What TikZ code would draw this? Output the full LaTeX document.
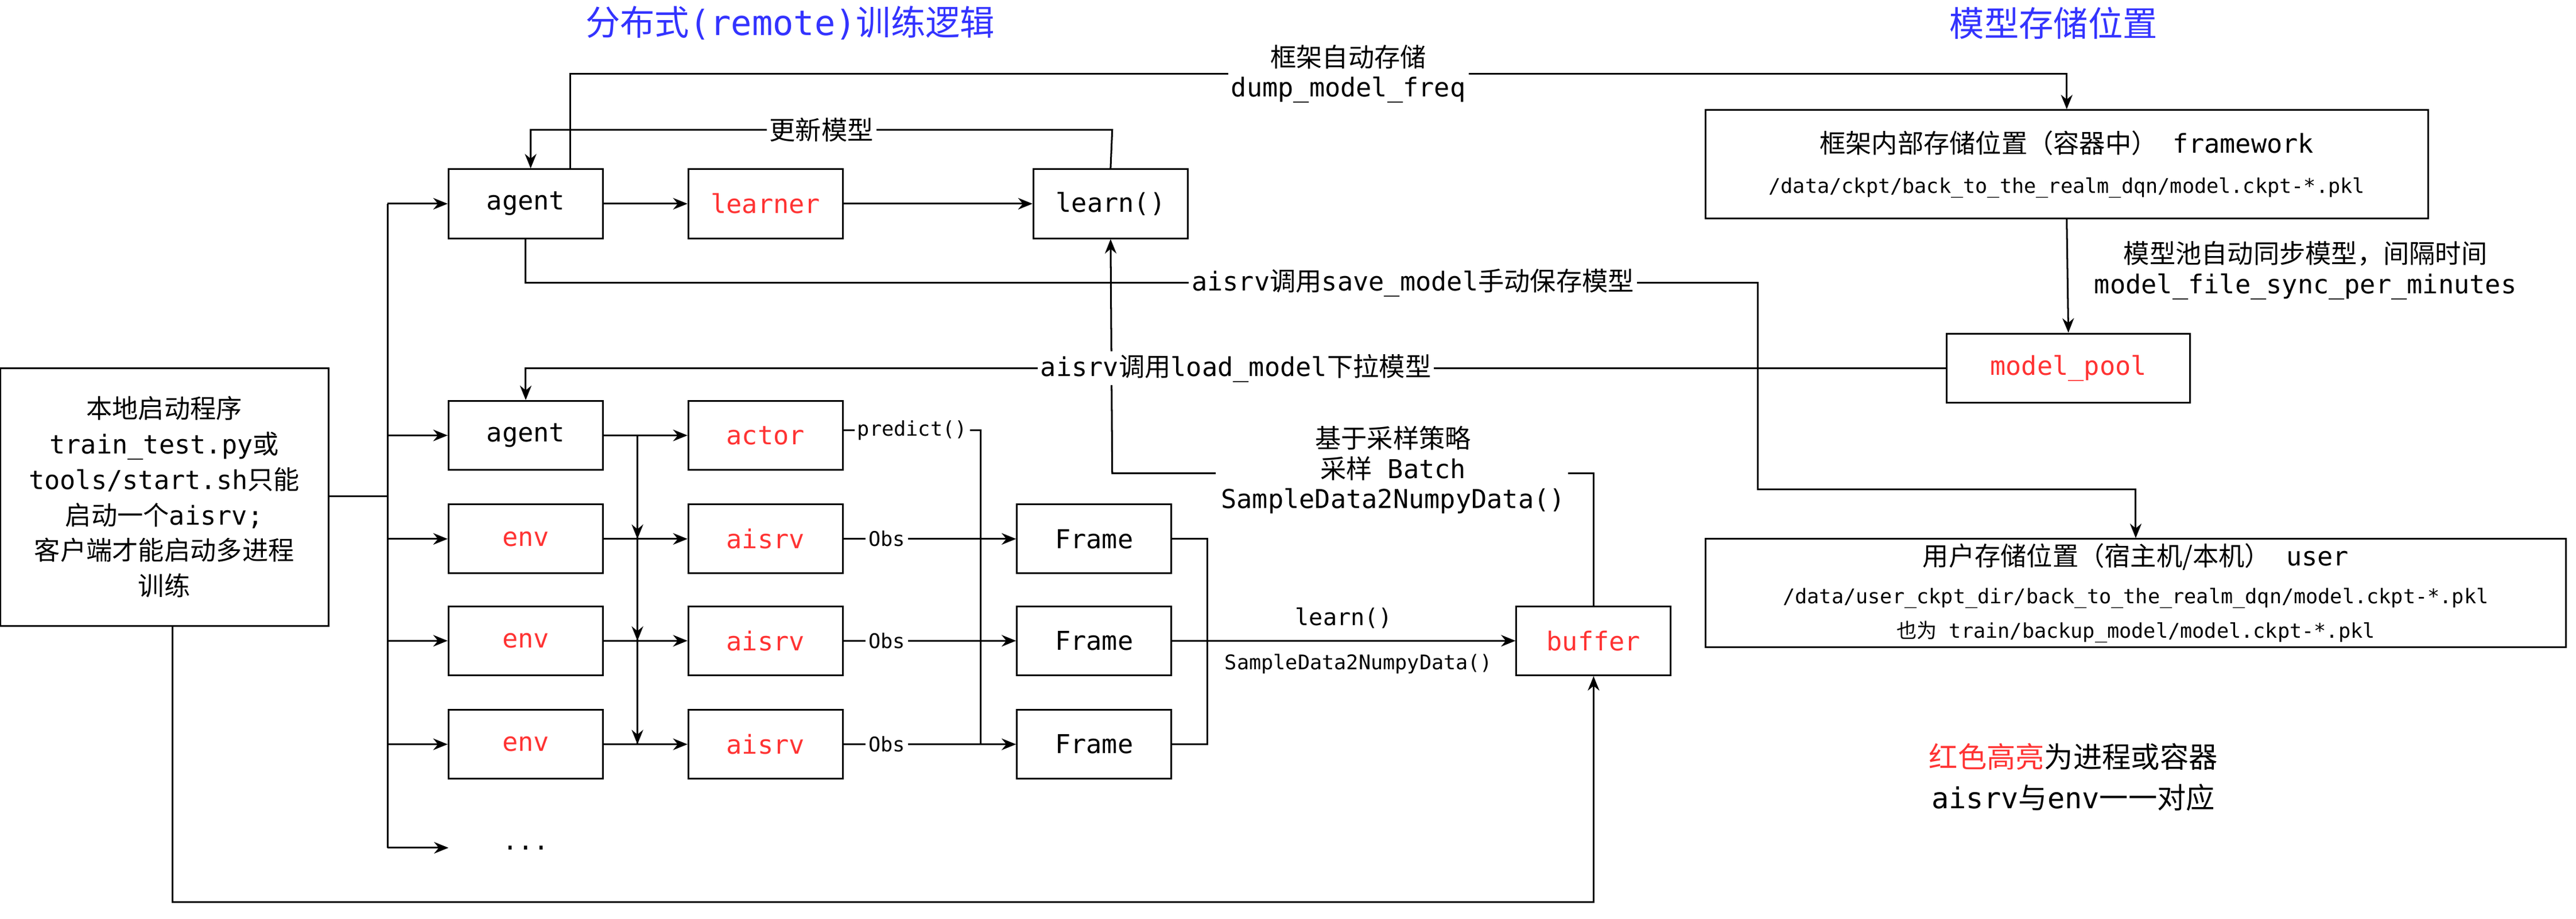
\documentclass[tikz,border=0pt]{standalone}
\usepackage{fontspec}
\setmainfont{DejaVu Sans Mono}
\newfontfamily\cjk{Noto Sans CJK SC}
\newcommand\zh[1]{{\cjk #1}}
\usetikzlibrary{arrows.meta}
\definecolor{hl}{HTML}{FF3333}
\definecolor{tb}{HTML}{3333FF}
\begin{document}
\begin{tikzpicture}[x=0.02cm,y=-0.02cm,
  box/.style={draw,line width=0.6pt,minimum width=1.88cm,minimum height=0.84cm,inner sep=0pt,font=\fontsize{9}{10}\selectfont},
  red/.style={text=hl},
  ln/.style={line width=0.6pt},
  ar/.style={ln,-{Stealth[length=5pt,width=4pt]}},
  lbl/.style={fill=white,inner sep=1pt,font=\fontsize{9}{10.5}\selectfont,align=center},
  sm/.style={fill=white,inner sep=1pt,font=\fontsize{7}{8}\selectfont}]
\useasboundingbox (0,0) rectangle (1568,559);
% titles
\node[text=tb,font=\fontsize{12}{13}\selectfont] (t1) at (481,14) {\zh{分布式}(remote)\zh{训练逻辑}};
\node[text=tb,font=\fontsize{12}{13}\selectfont] (t2) at (1250,14) {\zh{模型存储位置}};
% left box
\node[draw,ln,minimum width=4cm,minimum height=3.14cm,align=center,font=\fontsize{9}{12.3}\selectfont,inner sep=0pt] (main) at (100,302.5)
 {\zh{本地启动程序}\\train\_test.py\zh{或}\\tools/start.sh\zh{只能}\\\zh{启动一个}aisrv;\\\zh{客户端才能启动多进程}\\\zh{训练}};
% nodes
\node[box] (ag1) at (320,124) {agent};
\node[box,red] (lrn) at (466,124) {learner};
\node[box] (lf) at (676,124) {learn()};
\node[box] (ag2) at (320,265) {agent};
\node[box,red] (act) at (466,265) {actor};
\foreach \i/\y in {1/328,2/390,3/453}{
  \node[box,red] (env\i) at (320,\y) {env};
  \node[box,red] (srv\i) at (466,\y) {aisrv};
  \node[box] (fr\i) at (666,\y) {Frame};
}
\node[font=\fontsize{9}{10}\selectfont] (dots) at (320,516) {...};
\node[box,red] (buf) at (970,390) {buffer};
\node[draw,ln,minimum width=8.8cm,minimum height=1.32cm,align=center,inner sep=0pt] (fw) at (1258,100)
 {{\fontsize{9}{10}\selectfont\zh{框架内部存储位置（容器中）} framework}\\[2pt]{\fontsize{7}{8}\selectfont /data/ckpt/back\_to\_the\_realm\_dqn/model.ckpt-*.pkl}};
\node[box,red,minimum width=2.96cm] (mp) at (1259,224) {model\_pool};
\node[draw,ln,minimum width=10.48cm,minimum height=1.32cm,align=center,inner sep=0pt] (us) at (1300,361)
 {{\fontsize{9}{10}\selectfont\zh{用户存储位置（宿主机/本机）} user}\\[1pt]{\fontsize{7}{8.5}\selectfont /data/user\_ckpt\_dir/back\_to\_the\_realm\_dqn/model.ckpt-*.pkl}\\{\fontsize{7}{8.5}\selectfont \zh{也为} train/backup\_model/model.ckpt-*.pkl}};
\node[align=center,font=\fontsize{10}{14}\selectfont] (note) at (1262,473) {\textcolor{hl}{\zh{红色高亮}}\zh{为进程或容器}\\aisrv\zh{与}env\zh{一一对应}};
% bus
\coordinate (bx) at (236,302);
\draw[ln] (main.east |- bx) -- (bx);
\draw[ln] (236,124) -- (236,516);
\foreach \n in {ag1,ag2,env1,env2,env3} \draw[ar] (236,0 |- \n.west) -- (\n.west);
\draw[ar] (236,516) -- (dots.west -| 273,0);
% top row
\draw[ar] (ag1) -- (lrn);
\draw[ar] (lrn) -- (lf);
\draw[ar] (ag2) -- (act);
\draw[ln] (388,265) -- (388,453);
\foreach \i in {1,2,3}{
  \draw[ar] (env\i) -- (srv\i);
  \draw[ln,-{Stealth[length=5pt,width=4pt]}] (388,0 |- env\i.east) ++(0,-12) -- ++(0,12);
  \draw[ar] (srv\i) -- node[sm,pos=0.25]{Obs} (fr\i);
}
\draw[ln] (act.east) ++(0,-3) -- node[sm,pos=0.5]{predict()} (597,262) -- (597,453);
% frames to buffer
\draw[ln] (fr1.east) -- (735,328) -- (735,453) -- (fr3.east);
\draw[ar] (fr2) -- node[sm,above=3pt,fill=none,font=\fontsize{8}{9}\selectfont]{learn()} (buf);
\node[sm] (sd) at (827,404) {SampleData2NumpyData()};
% buffer to learn
\draw[ln] (buf.north) -- (970,288) -- (945,288);
\draw[ar] (740,288) -- (677,288) -- (lf.south);
\node[lbl] (samp) at (848,286) {\zh{基于采样策略}\\\zh{采样} Batch\\SampleData2NumpyData()};
% bottom loop
\draw[ar] (main.south -| 105,0) -- (105,549) -- (970,549) -- (buf.south);
% update model
\draw[ar] (lf.north) -- (677,79) -- node[lbl,pos=0.5]{\zh{更新模型}} (323,79) -- (ag1.north -| 323,0);
% dump
\draw[ar] (ag1.north -| 347,0) -- (347,45) -- node[lbl,pos=0.52]{\zh{框架自动存储}\\dump\_model\_freq} (1258,45) -- (fw.north);
% sync
\draw[ar] (fw.south) -- node[lbl,fill=none,right=8pt,pos=0.45]{\zh{模型池自动同步模型，间隔时间}\\model\_file\_sync\_per\_minutes} (mp.north);
% save
\draw[ar] (ag1.south) -- (320,172) -- node[lbl,pos=0.72]{aisrv\zh{调用}save\_model\zh{手动保存模型}} (1070,172) -- (1070,298) -- (1300,298) -- (us.north);
% load
\draw[ar] (mp.west) -- node[lbl,pos=0.5]{aisrv\zh{调用}load\_model\zh{下拉模型}} (320,224) -- (ag2.north);
\end{tikzpicture}
\end{document}
